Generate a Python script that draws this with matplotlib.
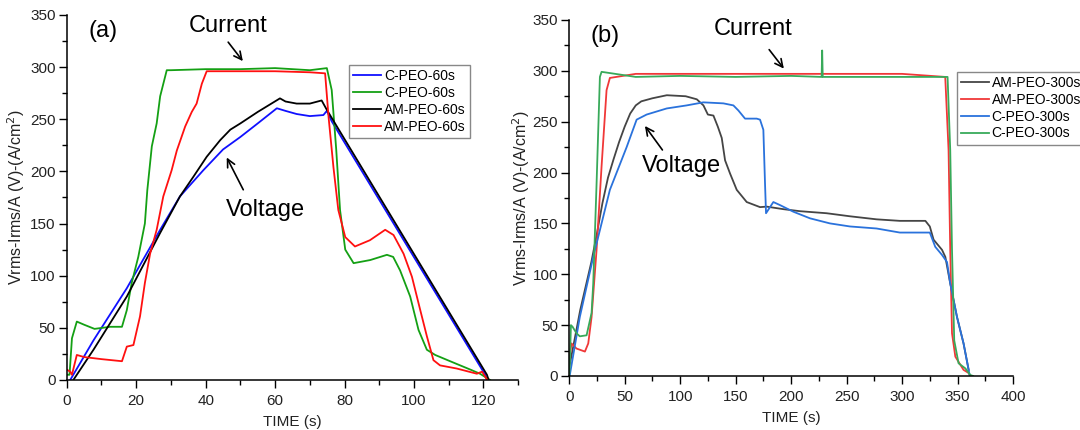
import matplotlib
matplotlib.use("Agg")
import matplotlib.pyplot as plt
from matplotlib.ticker import MultipleLocator, AutoMinorLocator

plt.rcParams['font.family'] = ['Liberation Sans', 'DejaVu Sans']

# ---------------- Panel (a) data ----------------
a_blue_t = [1.0, 7.7, 17.3, 26.9, 32.6, 39.3, 45, 50, 55, 60.5, 63, 66.2, 70, 73.9, 74.9, 76.3, 120.5, 121]
a_blue_v = [0, 38, 88, 144, 176, 201, 221, 233, 246, 260.5, 258, 255, 253, 254, 258, 248, 5, 0]

a_green_t = [0, 0.8, 1.5, 2.9, 5, 8, 12.5, 15.9, 17.3, 18.7, 20.6, 22.5, 23.2, 24.5, 25.9, 26.9, 28.8,
             30, 40, 50, 60, 70, 74.9, 76.3, 77.6, 78.7, 80.2, 82.6, 87.4, 92.2, 94, 96, 98.9,
             101.3, 103.7, 106.1, 110.4, 116.2, 119, 121.9]
a_green_v = [5, 5, 40, 56, 53, 49, 51, 51, 67, 93, 118, 150, 182, 224, 246, 272, 297,
             297, 298, 298, 299, 297, 299, 278, 221, 163, 125, 112, 115, 120, 118, 105, 80,
             48, 29, 24, 18, 10, 6, 0]

a_black_t = [1.9, 7.7, 17.3, 26.9, 32.6, 36.5, 40.3, 44.2, 47.1, 50, 55, 61.4, 63, 66.2, 70, 73.4, 74.9, 121, 121.5]
a_black_v = [0, 29, 80, 141, 176, 195, 214, 230, 240, 246, 257, 270, 267, 265, 265, 268, 259, 5, 0]

a_red_t = [0, 1, 1.5, 2.9, 5, 10, 15.9, 17.3, 19.2, 21.1, 22.5, 24, 25.9, 27.8, 30.2, 31.7, 34.1, 36,
           37.4, 38.9, 40.3, 50, 60, 70, 74.4, 75.4, 76.8, 78.2, 80.2, 83, 87.3, 91.7, 94.1, 97,
           99.4, 101.8, 103.7, 105.6, 107.5, 112.3, 118.1, 119.6, 121.1]
a_red_v = [10, 8, 5, 24, 22, 20, 18, 32, 33.5, 61, 93, 121, 144, 176, 201, 220, 243, 257,
           265, 284, 296, 296, 296, 295, 294, 252, 204, 163, 137, 128, 134, 144, 139, 121,
           99, 67, 42, 19, 14, 11, 6, 8, 0]

a_labels = ['C-PEO-60s', 'C-PEO-60s', 'AM-PEO-60s', 'AM-PEO-60s']

# ---------------- Panel (b) data ----------------
b_black_t = [0, 10, 20, 25, 30, 35, 40, 45, 50, 55, 60, 65, 75, 88, 105, 115, 121, 125, 130, 134,
             137.5, 140.5, 145, 151, 160, 172, 178, 193, 208, 232, 253, 277, 298, 321, 325, 328.4,
             336, 339, 343.4, 349.5, 355.4, 360]
b_black_v = [8, 65, 112, 140, 170, 195, 213, 230, 245, 258, 266, 270, 273, 276, 275, 272, 266, 257, 256, 245,
             234, 212, 199, 183, 171, 166, 166.5, 164, 162, 160, 157, 154, 152.5, 152.5, 147, 134,
             124, 117, 91, 58, 32, 6]

b_red_t = [0, 2.1, 6.6, 14.2, 17.2, 20.2, 24.7, 29.2, 33.7, 36.7, 60, 100, 150, 200, 250, 300,
           338.9, 341.9, 343.4, 345, 348, 355.4, 359.9, 361.5]
b_red_v = [16, 32, 27, 24, 32, 58, 124, 206, 281, 293, 297, 297, 297, 297, 297, 297,
           294, 222, 124, 42, 19, 6, 3, 0]

b_blue_t = [0.6, 9.6, 21.7, 36.7, 51.8, 60.8, 69.8, 87.9, 105.9, 120.9, 139, 148, 152.5, 158.5, 169,
            172, 175, 176.5, 177.4, 181, 184, 190, 202, 217, 235, 253, 277, 298, 325, 329.9, 336,
            340.5, 343.4, 349.5, 355.4, 360, 361]
b_blue_v = [1, 58, 117, 183, 225, 252, 257, 263, 266, 269, 268, 266, 261, 253, 253,
            252, 242, 189, 160, 166, 171, 168, 161.5, 155, 150, 147, 145, 141, 141, 127, 119,
            112, 91, 58, 32, 6, 0]

b_green_t = [0, 0.6, 1.6, 3, 6.6, 9.6, 15.7, 20.2, 21.7, 24.7, 27.7, 29.2, 60, 100, 150, 200,
             227.5, 228, 228.5, 229, 260, 300, 341, 343.4, 345, 347, 350.9, 357, 361.5, 364]
b_green_v = [0, 12.5, 50, 48.5, 42, 39, 40, 62, 91, 189, 294, 299, 294, 295, 294, 295,
             294, 320, 294, 294, 294, 294, 294, 222, 124, 35, 12.5, 7.5, 1, 0]

b_labels = ['AM-PEO-300s', 'AM-PEO-300s', 'C-PEO-300s', 'C-PEO-300s']

ylabel = 'Vrms-Irms/A (V)-(A/cm$^2$)'
xlabel = 'TIME (s)'

fig = plt.figure(figsize=(10.8, 4.3), dpi=100)
ax1 = fig.add_axes([0.0618, 0.1163, 0.418, 0.849])
ax2 = fig.add_axes([0.527, 0.1256, 0.411, 0.828])

TXT = '#222222'


def style(ax, xmax, xmaj, ylpad):
    ax.set_xlim(0, xmax)
    ax.set_ylim(0, 350)
    ax.xaxis.set_major_locator(MultipleLocator(xmaj))
    ax.xaxis.set_minor_locator(AutoMinorLocator(2))
    ax.yaxis.set_major_locator(MultipleLocator(50))
    ax.yaxis.set_minor_locator(AutoMinorLocator(2))
    for s in ['top', 'right']:
        ax.spines[s].set_visible(False)
    for s in ['left', 'bottom']:
        ax.spines[s].set_linewidth(1.1)
    ax.tick_params(which='major', direction='out', length=6, width=1, labelsize=11, labelcolor=TXT)
    ax.tick_params(which='minor', direction='out', length=3.5, width=1)
    ax.tick_params(axis='y', which='major', pad=2)
    ax.tick_params(axis='x', which='major', pad=4)
    ax.set_xlabel(xlabel, fontsize=11, color=TXT, labelpad=5)
    ax.set_ylabel(ylabel, fontsize=11.5, color=TXT, labelpad=ylpad)


lw = 1.3
leg_kw = dict(loc='upper left', borderaxespad=0, fontsize=10, labelspacing=0.2,
              handlelength=2.0, handletextpad=0.2, borderpad=0.3, fancybox=False,
              edgecolor='#888888', framealpha=1)
arrow_kw = dict(arrowstyle='->', color='black', lw=1.2, mutation_scale=14)

# panel a
l1, = ax1.plot(a_blue_t, a_blue_v, color='#1010ff', lw=lw, label=a_labels[0])
l2, = ax1.plot(a_green_t, a_green_v, color='#14a014', lw=lw, label=a_labels[1])
l3, = ax1.plot(a_black_t, a_black_v, color='#000000', lw=lw, label=a_labels[2])
l4, = ax1.plot(a_red_t, a_red_v, color='#ff1010', lw=lw, label=a_labels[3])
style(ax1, 130, 20, 2.5)
ax1.text(10.4, 335, '(a)', fontsize=17, ha='center', va='center')
ax1.text(46.5, 339, 'Current', fontsize=17, ha='center', va='center')
ax1.annotate('', xy=(51.2, 303.6), xytext=(46, 326), arrowprops=arrow_kw)
ax1.text(57.1, 163, 'Voltage', fontsize=17, ha='center', va='center')
ax1.annotate('', xy=(45.7, 215.7), xytext=(51.2, 180), arrowprops=arrow_kw)
ax1.legend(handles=[l1, l2, l3, l4], bbox_to_anchor=(0.3234, 0.8488),
           bbox_transform=fig.transFigure, **leg_kw)

# panel b
m1, = ax2.plot(b_black_t, b_black_v, color='#454545', lw=lw, label=b_labels[0])
m2, = ax2.plot(b_red_t, b_red_v, color='#f03838', lw=lw, label=b_labels[1])
m3, = ax2.plot(b_blue_t, b_blue_v, color='#2a72dc', lw=lw, label=b_labels[2])
m4, = ax2.plot(b_green_t, b_green_v, color='#38aa5a', lw=lw, label=b_labels[3])
style(ax2, 400, 50, 0.5)
ax2.text(32.6, 334.6, '(b)', fontsize=17, ha='center', va='center')
ax2.text(166, 341, 'Current', fontsize=17, ha='center', va='center')
ax2.annotate('', xy=(195, 300), xytext=(178.7, 323), arrowprops=arrow_kw)
ax2.text(101, 206, 'Voltage', fontsize=17, ha='center', va='center')
ax2.annotate('', xy=(66.8, 248), xytext=(85.5, 220), arrowprops=arrow_kw)
ax2.legend(handles=[m1, m2, m3, m4], bbox_to_anchor=(0.8861, 0.8326),
           bbox_transform=fig.transFigure, **leg_kw)

fig.savefig('out.png', dpi=100)
